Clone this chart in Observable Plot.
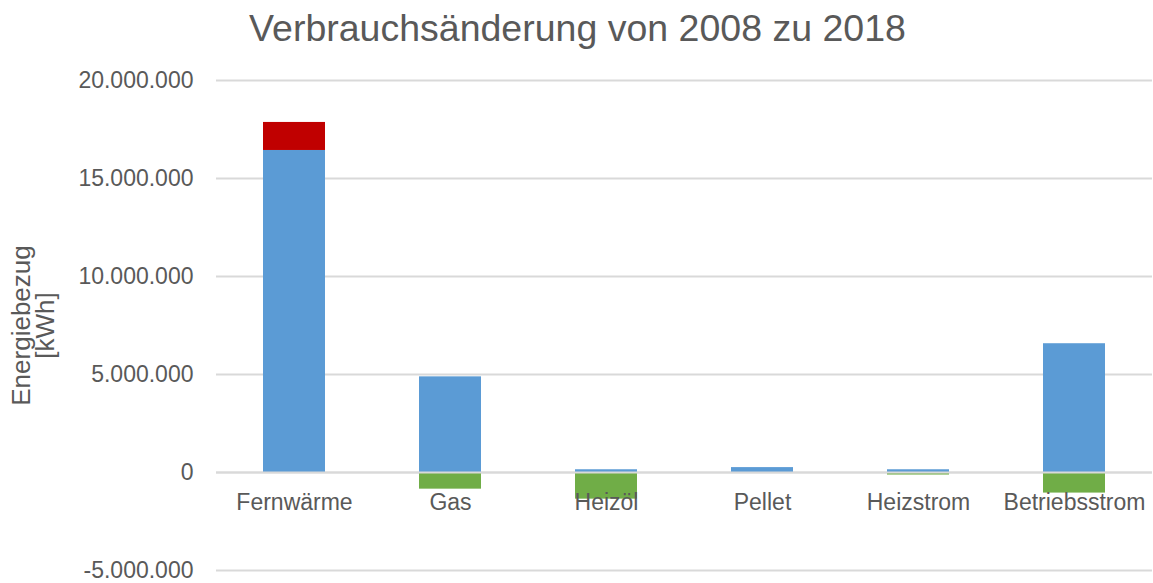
<!DOCTYPE html>
<html>
<head>
<meta charset="utf-8">
<script src="https://cdn.jsdelivr.net/npm/d3@7"></script>
<script src="https://cdn.jsdelivr.net/npm/@observablehq/plot@0.6"></script>
<style>
  body { margin: 0; background: #fff; font-family: "Liberation Sans", Arial, sans-serif; }
  #title { height: 60px; line-height: 56px; text-align: center; font-size: 37.5px; color: #595959; width: 1153px; padding-left: 2px; box-sizing: border-box; }
</style>
</head>
<body>
<div id="title">Verbrauchsänderung von 2008 zu 2018</div>
<div id="chart"></div>
<script>
const categories = ["Fernwärme", "Gas", "Heizöl", "Pellet", "Heizstrom", "Betriebsstrom"];
const seriesNames = ["Verbrauch 2018", "Zunahme", "Abnahme"];
const verbrauch = [16430000, 4880000, 140000, 250000, 140000, 6570000];
const zunahme = [1430000, 0, 0, 0, 0, 0];
const abnahme = [0, -850000, -1360000, 0, -130000, -1050000];
const yTicks = [-5000000, 0, 5000000, 10000000, 15000000, 20000000];
const colors = ["#5b9bd5", "#c00000", "#70ad47"];

const rows = [];
categories.forEach((c, i) => {
  rows.push({cat: c, series: seriesNames[0], value: verbrauch[i]});
  rows.push({cat: c, series: seriesNames[1], value: zunahme[i]});
  rows.push({cat: c, series: seriesNames[2], value: abnahme[i]});
});

const de = d3.formatLocale({decimal: ",", thousands: ".", grouping: [3], currency: ["", " €"], minus: "-"});
const fmt = de.format(",");

const chart = Plot.plot({
  width: 1153,
  height: 523,
  marginTop: 20,
  marginBottom: 13,
  marginLeft: 216,
  marginRight: 1,
  style: {fontFamily: "Liberation Sans, Arial, sans-serif", fontSize: "23px", color: "#595959", background: "#fff"},
  x: {domain: categories, paddingInner: 0.6, paddingOuter: 0.3, axis: null},
  y: {domain: [-5000000, 20000000], axis: null},
  color: {domain: seriesNames, range: colors},
  marks: [
    Plot.gridY(yTicks, {stroke: "#d9d9d9", strokeOpacity: 1, strokeWidth: 2}),
    Plot.axisY(yTicks, {tickSize: 0, tickPadding: 23, tickFormat: fmt, fill: "#595959", fontSize: 23, label: null}),
    Plot.barY(rows, Plot.stackY({x: "cat", y: "value", fill: "series", order: seriesNames})),
    Plot.ruleY([0], {stroke: "#d9d9d9", strokeWidth: 2}),
    Plot.text(categories, {x: d => d, y: 0, dy: 30, text: d => d, fill: "#595959", fontSize: 23}),
    Plot.text(["Energiebezug\n[kWh]"], {frameAnchor: "left", textAnchor: "middle", lineAnchor: "middle", rotate: -90, dx: -182, dy: 0, text: d => d, fill: "#595959", fontSize: 26, lineHeight: 0.9})
  ]
});
document.getElementById("chart").appendChild(chart);
</script>
</body>
</html>
